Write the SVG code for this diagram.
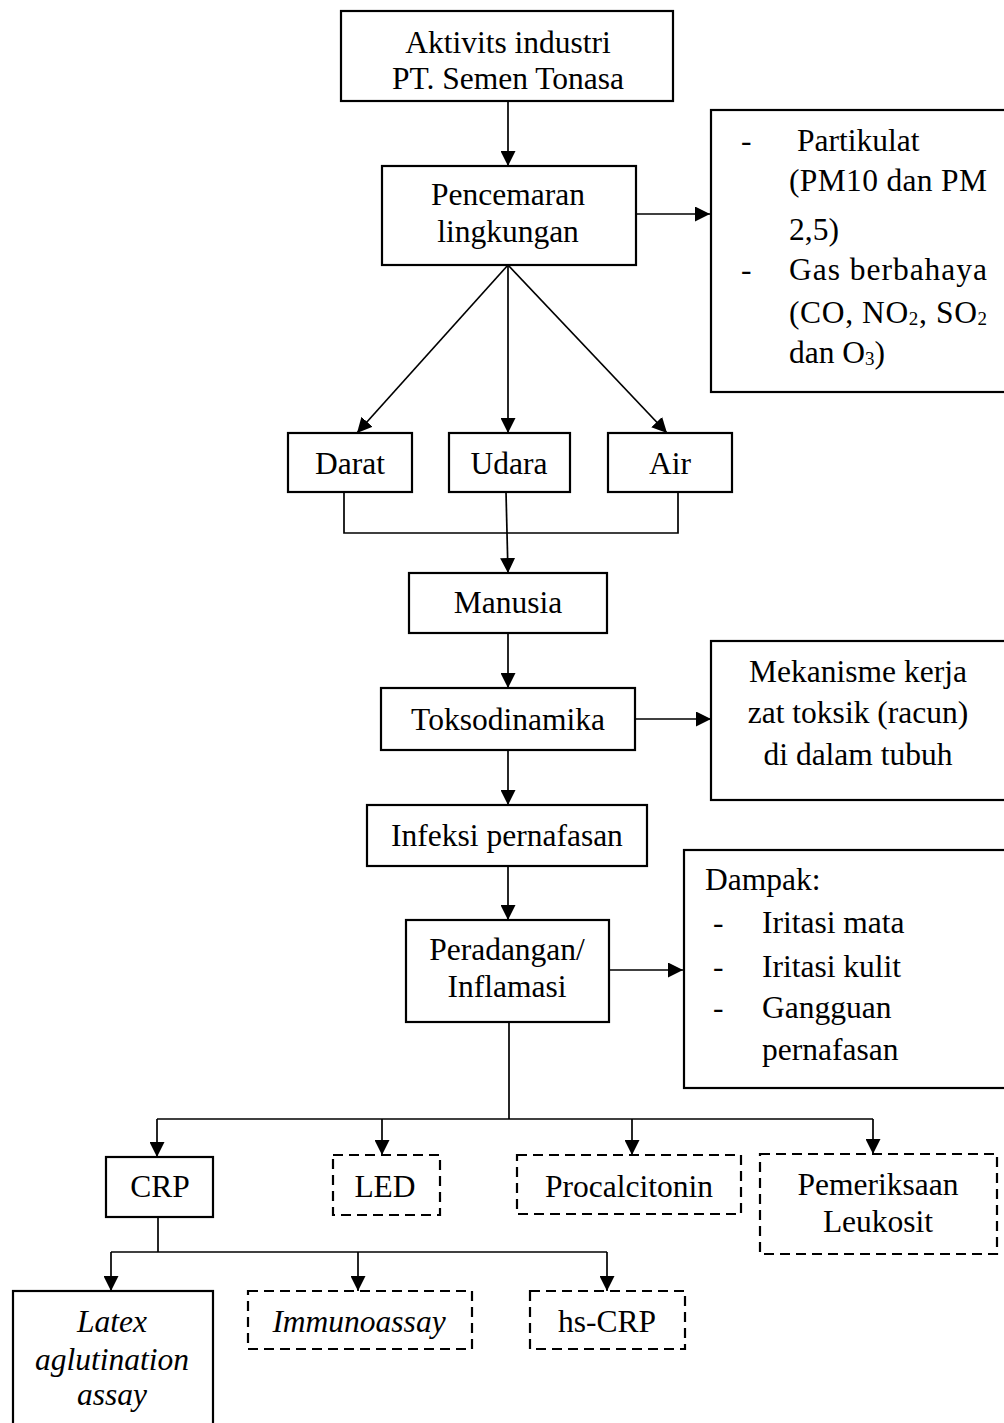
<svg xmlns="http://www.w3.org/2000/svg" width="1004" height="1423" viewBox="0 0 1004 1423">
<style>
  text { font-family: "Liberation Serif", "Times New Roman", serif; font-size: 31.5px; fill: #000; }
  .c { text-anchor: middle; }
  .it { font-style: italic; }
  .sub { font-size: 19px; }
  .box { fill: #fff; stroke: #000; stroke-width: 2.2; }
  .dash { fill: #fff; stroke: #000; stroke-width: 2.2; stroke-dasharray: 10 6; }
  .ln { fill: none; stroke: #000; stroke-width: 1.7; }
</style>
<defs>
  <marker id="ah" viewBox="0 0 10 10" refX="10" refY="5" markerWidth="15" markerHeight="15" markerUnits="userSpaceOnUse" orient="auto">
    <path d="M0,0 L10,5 L0,10 z" fill="#000"/>
  </marker>
</defs>
<rect width="1004" height="1423" fill="#fff"/>

<g id="connectors">
  <line class="ln" x1="508" y1="101" x2="508" y2="166" marker-end="url(#ah)"/>
  <line class="ln" x1="636" y1="214" x2="710" y2="214" marker-end="url(#ah)"/>
  <line class="ln" x1="508" y1="265" x2="357" y2="433" marker-end="url(#ah)"/>
  <line class="ln" x1="508" y1="265" x2="508" y2="433" marker-end="url(#ah)"/>
  <line class="ln" x1="508" y1="265" x2="667" y2="433" marker-end="url(#ah)"/>
  <polyline class="ln" points="344,492 344,533 678,533 678,492"/>
  <line class="ln" x1="506" y1="492" x2="508" y2="573" marker-end="url(#ah)"/>
  <line class="ln" x1="508" y1="633" x2="508" y2="688" marker-end="url(#ah)"/>
  <line class="ln" x1="635" y1="719" x2="711" y2="719" marker-end="url(#ah)"/>
  <line class="ln" x1="508" y1="750" x2="508" y2="805" marker-end="url(#ah)"/>
  <line class="ln" x1="508" y1="866" x2="508" y2="920" marker-end="url(#ah)"/>
  <line class="ln" x1="609" y1="970" x2="683" y2="970" marker-end="url(#ah)"/>
  <line class="ln" x1="509" y1="1022" x2="509" y2="1119"/>
  <line class="ln" x1="157" y1="1119" x2="873" y2="1119"/>
  <line class="ln" x1="157" y1="1119" x2="157" y2="1157" marker-end="url(#ah)"/>
  <line class="ln" x1="382" y1="1119" x2="382" y2="1155" marker-end="url(#ah)"/>
  <line class="ln" x1="632" y1="1119" x2="632" y2="1155" marker-end="url(#ah)"/>
  <line class="ln" x1="873" y1="1119" x2="873" y2="1154" marker-end="url(#ah)"/>
  <line class="ln" x1="158" y1="1217" x2="158" y2="1252"/>
  <line class="ln" x1="111" y1="1252" x2="607" y2="1252"/>
  <line class="ln" x1="111" y1="1252" x2="111" y2="1291" marker-end="url(#ah)"/>
  <line class="ln" x1="358" y1="1252" x2="358" y2="1291" marker-end="url(#ah)"/>
  <line class="ln" x1="607" y1="1252" x2="607" y2="1291" marker-end="url(#ah)"/>
</g>

<g id="aktivitas">
  <rect class="box" x="341" y="11" width="332" height="90"/>
  <text class="c" x="508" y="53">Aktivits industri</text>
  <text class="c" x="508" y="89">PT. Semen Tonasa</text>
</g>
<g id="pencemaran">
  <rect class="box" x="382" y="166" width="254" height="99"/>
  <text class="c" x="508" y="205">Pencemaran</text>
  <text class="c" x="508" y="242">lingkungan</text>
</g>
<g id="polutan">
  <rect class="box" x="711" y="110" width="300" height="282"/>
  <text x="741" y="151">-</text>
  <text x="797" y="151">Partikulat</text>
  <text x="789" y="191" textLength="198" lengthAdjust="spacing">(PM10 dan PM</text>
  <text x="789" y="240">2,5)</text>
  <text x="741" y="280">-</text>
  <text x="789" y="280" textLength="198" lengthAdjust="spacing">Gas berbahaya</text>
  <text x="789" y="323" textLength="198" lengthAdjust="spacing">(CO, NO<tspan class="sub" dy="2">2</tspan><tspan dy="-2">, SO</tspan><tspan class="sub" dy="2">2</tspan></text>
  <text x="789" y="363">dan O<tspan class="sub" dy="2">3</tspan><tspan dy="-2">)</tspan></text>
</g>
<g id="darat">
  <rect class="box" x="288" y="433" width="124" height="59"/>
  <text class="c" x="350" y="474">Darat</text>
</g>
<g id="udara">
  <rect class="box" x="449" y="433" width="121" height="59"/>
  <text class="c" x="509" y="474">Udara</text>
</g>
<g id="air">
  <rect class="box" x="608" y="433" width="124" height="59"/>
  <text class="c" x="670" y="474">Air</text>
</g>
<g id="manusia">
  <rect class="box" x="409" y="573" width="198" height="60"/>
  <text class="c" x="508" y="613">Manusia</text>
</g>
<g id="toksodinamika">
  <rect class="box" x="381" y="688" width="254" height="62"/>
  <text class="c" x="508" y="730">Toksodinamika</text>
</g>
<g id="mekanisme">
  <rect class="box" x="711" y="641" width="300" height="159"/>
  <text class="c" x="858" y="682">Mekanisme kerja</text>
  <text class="c" x="858" y="723">zat toksik (racun)</text>
  <text class="c" x="858" y="765">di dalam tubuh</text>
</g>
<g id="infeksi">
  <rect class="box" x="367" y="805" width="280" height="61"/>
  <text class="c" x="507" y="846">Infeksi pernafasan</text>
</g>
<g id="peradangan">
  <rect class="box" x="406" y="920" width="203" height="102"/>
  <text class="c" x="507" y="960">Peradangan/</text>
  <text class="c" x="507" y="997">Inflamasi</text>
</g>
<g id="dampak">
  <rect class="box" x="684" y="850" width="330" height="238"/>
  <text x="705" y="890">Dampak:</text>
  <text x="713" y="933">-</text>
  <text x="762" y="933">Iritasi mata</text>
  <text x="713" y="977">-</text>
  <text x="762" y="977">Iritasi kulit</text>
  <text x="713" y="1018">-</text>
  <text x="762" y="1018">Gangguan</text>
  <text x="762" y="1060">pernafasan</text>
</g>
<g id="crp">
  <rect class="box" x="106" y="1157" width="107" height="60"/>
  <text class="c" x="160" y="1197">CRP</text>
</g>
<g id="led">
  <rect class="dash" x="333" y="1155" width="107" height="60"/>
  <text class="c" x="385" y="1197">LED</text>
</g>
<g id="procalcitonin">
  <rect class="dash" x="517" y="1155" width="224" height="59"/>
  <text class="c" x="629" y="1197">Procalcitonin</text>
</g>
<g id="leukosit">
  <rect class="dash" x="760" y="1154" width="237" height="100"/>
  <text class="c" x="878" y="1195">Pemeriksaan</text>
  <text class="c" x="878" y="1232">Leukosit</text>
</g>
<g id="latex">
  <rect class="box" x="13" y="1291" width="200" height="145"/>
  <text class="c it" x="112" y="1332">Latex</text>
  <text class="c it" x="112" y="1370">aglutination</text>
  <text class="c it" x="112" y="1405">assay</text>
</g>
<g id="immunoassay">
  <rect class="dash" x="248" y="1291" width="224" height="58"/>
  <text class="c it" x="359" y="1332">Immunoassay</text>
</g>
<g id="hscrp">
  <rect class="dash" x="530" y="1291" width="155" height="58"/>
  <text class="c" x="607" y="1332">hs-CRP</text>
</g>
</svg>
